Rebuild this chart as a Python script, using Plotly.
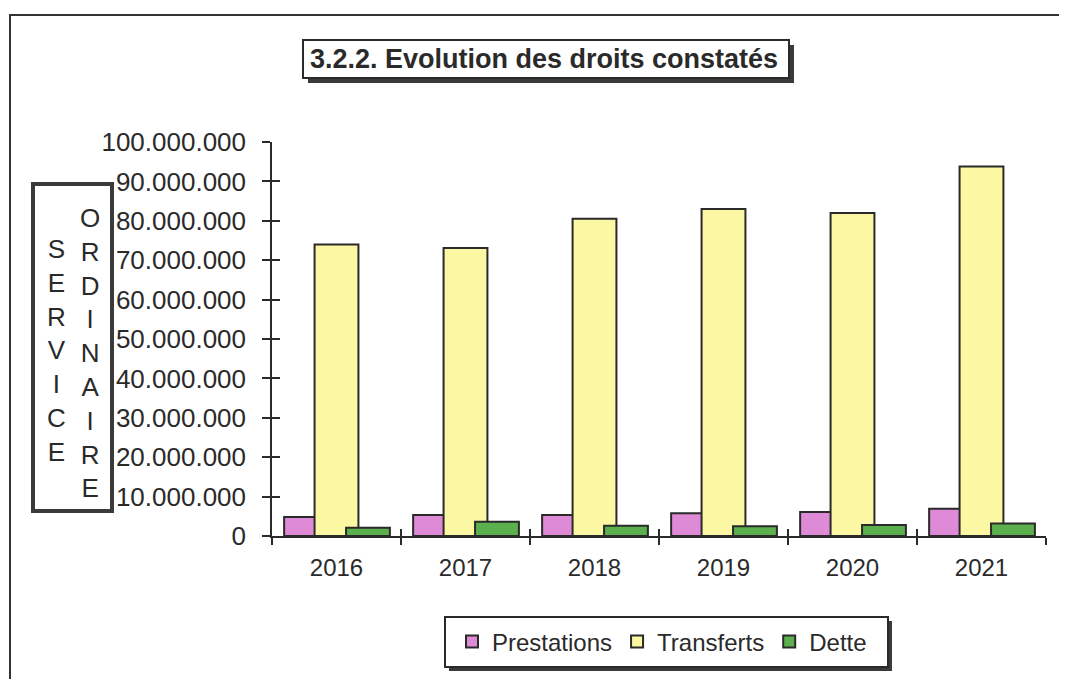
import plotly.graph_objects as go

years = ["2016", "2017", "2018", "2019", "2020", "2021"]
prestations = [4.8e6, 5.3e6, 5.3e6, 5.8e6, 6.1e6, 6.9e6]
transferts = [74.0e6, 73.1e6, 80.5e6, 83.0e6, 82.0e6, 93.8e6]
dette = [2.1e6, 3.6e6, 2.6e6, 2.5e6, 2.8e6, 3.2e6]

series_names = ["Prestations", "Transferts", "Dette"]
colors = ["#DE8AD6", "#FBF7A2", "#5BAF4C"]
offsets = [-0.406, -0.17, 0.074]
BAR_W = 0.34
FONT = "Arial, Liberation Sans, sans-serif"
INK = "#2a2a2a"

W, H = 1067, 679
OFF = 8  # page body margin
# plot area in screen pixels
SX0, SX1, SY0, SY1 = 272, 1046, 142, 536
L = SX0 - OFF
T = SY0 - OFF
R = W - (SX1 - OFF)
B = H - (SY1 - OFF)
PW, PH = SX1 - SX0, SY1 - SY0


def px(x):
    return (x - SX0) / PW


def py(y):
    return (SY1 - y) / PH


fig = go.Figure()
for name, vals, col, off in zip(series_names, [prestations, transferts, dette], colors, offsets):
    fig.add_trace(go.Bar(
        x=years, y=vals, name=name, width=BAR_W, offset=off,
        marker=dict(color=col, line=dict(color=INK, width=2)),
    ))

# invisible trace for crossing ticks on overlay axes
fig.add_trace(go.Bar(x=years, y=transferts, xaxis="x2", yaxis="y2",
                     marker=dict(color="rgba(0,0,0,0)", line=dict(width=0)),
                     opacity=0, showlegend=False, hoverinfo="skip"))

shapes = []
# outer frame
shapes.append(dict(type="rect", xref="paper", yref="paper", layer="below",
                   x0=px(10), x1=px(1062), y0=py(700), y1=py(15),
                   line=dict(color="#333", width=2)))
# title box shadow + box
shapes.append(dict(type="rect", xref="paper", yref="paper",
                   x0=px(308), x1=px(794), y0=py(83), y1=py(45),
                   fillcolor="#3a3a3a", line=dict(width=0)))
shapes.append(dict(type="rect", xref="paper", yref="paper",
                   x0=px(303), x1=px(789), y0=py(78), y1=py(40),
                   fillcolor="white", line=dict(color=INK, width=2)))
# left box
shapes.append(dict(type="rect", xref="paper", yref="paper", layer="below",
                   x0=px(33), x1=px(112), y0=py(511), y1=py(184),
                   fillcolor="white", line=dict(color="#3a3a3a", width=4)))
# legend box shadow + box
shapes.append(dict(type="rect", xref="paper", yref="paper",
                   x0=px(449), x1=px(892), y0=py(671), y1=py(621),
                   fillcolor="#3a3a3a", line=dict(width=0)))
shapes.append(dict(type="rect", xref="paper", yref="paper",
                   x0=px(445), x1=px(888), y0=py(667), y1=py(617),
                   fillcolor="white", line=dict(color=INK, width=2)))

annotations = [
    dict(text="<b>3.2.2. Evolution des droits constatés</b>", xref="paper", yref="paper",
         x=px(544), y=py(59), xanchor="center", yanchor="middle", showarrow=False,
         font=dict(family=FONT, size=27, color=INK)),
    dict(text="<br>".join("SERVICE"), xref="paper", yref="paper",
         x=px(56), y=py(350), xanchor="center", yanchor="middle", showarrow=False,
         font=dict(family=FONT, size=26, color=INK)),
    dict(text="<br>".join("ORDINAIRE"), xref="paper", yref="paper",
         x=px(90), y=py(353), xanchor="center", yanchor="middle", showarrow=False,
         font=dict(family=FONT, size=26, color=INK)),
]

fig.update_layout(
    width=W, height=H,
    margin=dict(l=L, r=R, t=T, b=B, pad=0),
    paper_bgcolor="white", plot_bgcolor="white",
    barmode="overlay",
    separators=",.",
    font=dict(family=FONT, color=INK),
    showlegend=True,
    legend=dict(orientation="h", x=px(662), y=py(642), xanchor="center", yanchor="middle",
                bgcolor="rgba(0,0,0,0)", borderwidth=0,
                font=dict(family=FONT, size=24, color=INK),
                itemwidth=30, tracegroupgap=0),
    xaxis=dict(type="category", tickson="boundaries", ticks="outside", ticklen=7,
               tickwidth=1.5, tickcolor=INK, showline=True, linecolor=INK, linewidth=1.5,
               showgrid=False, zeroline=False,
               tickfont=dict(family=FONT, size=24, color=INK), ticklabelstandoff=9),
    yaxis=dict(range=[0, 100e6], tickvals=[i * 10e6 for i in range(11)], tickformat=",d",
               ticks="outside", ticklen=8, tickwidth=1.5, tickcolor=INK,
               showline=True, linecolor=INK, linewidth=1.5, showgrid=False, zeroline=False,
               tickfont=dict(family=FONT, size=26, color=INK), ticklabelstandoff=11),
    xaxis2=dict(type="category", overlaying="x", matches="x", tickson="boundaries",
                ticks="inside", ticklen=7, tickwidth=1.5, tickcolor=INK, showticklabels=False,
                showline=False, showgrid=False, zeroline=False, side="bottom"),
    yaxis2=dict(overlaying="y", matches="y", ticks="inside", ticklen=8, tickwidth=1.5,
                tickcolor=INK, tickvals=[i * 10e6 for i in range(11)], showticklabels=False,
                showline=False, showgrid=False, zeroline=False, side="left"),
    shapes=shapes,
    annotations=annotations,
)

fig.write_html("out.html")
